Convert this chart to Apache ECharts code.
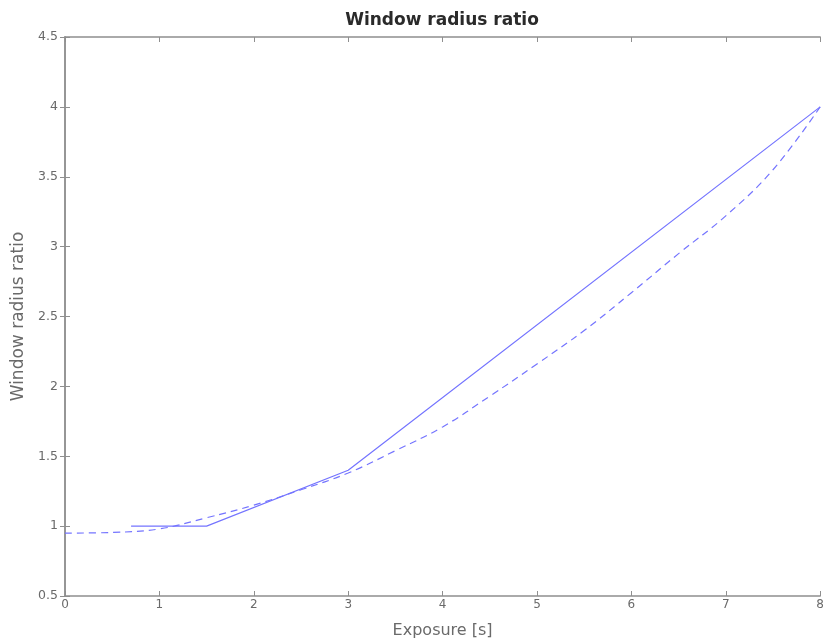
<!DOCTYPE html>
<html><head><meta charset="utf-8">
<script src="https://cdn.jsdelivr.net/npm/echarts@6/dist/echarts.min.js"></script>
<style>html,body{margin:0;padding:0;background:#fff}#c{width:827px;height:644px}</style>
</head><body><div id="c"></div>
<script>
const titleText = 'Window radius ratio';
const xName = 'Exposure [s]';
const yName = 'Window radius ratio';
const solidX = [0.7, 1.5, 3, 8];
const solidY = [1.0, 1.0, 1.4, 4.0];
const dashX = [0, 0.5, 1, 1.5, 2, 2.5, 3, 3.5, 4, 4.5, 5, 5.5, 6, 6.5, 7, 7.5, 8];
const dashY = [0.95, 0.955, 0.98, 1.06, 1.15, 1.26, 1.38, 1.54, 1.71, 1.93, 2.16, 2.40, 2.67, 2.95, 3.22, 3.55, 4.0];

const axisCol = '#8f8f8f';
const lblCol = '#6a6a6a';
const lineCol = '#7474ff';
const font = 'DejaVu Sans';
const chart = echarts.init(document.getElementById('c'));
const baseX = {type:'value', min:0, max:8, interval:1,
  axisLine:{lineStyle:{color:axisCol, width:1.5}},
  axisTick:{inside:true, length:5, lineStyle:{color:axisCol}},
  splitLine:{show:false}};
const baseY = {type:'value', min:0.5, max:4.5, interval:0.5,
  axisLine:{show:true, lineStyle:{color:axisCol, width:1.5}},
  axisTick:{show:true, inside:true, length:5, lineStyle:{color:axisCol}},
  splitLine:{show:false}};
chart.setOption({
  animation:false,
  title:{text:titleText, left:437, textAlign:'center', top:7,
    textStyle:{fontFamily:font, fontSize:17, fontWeight:'bold', color:'#2a2a2a'}},
  grid:{left:65, top:37, right:5, bottom:48},
  xAxis:[
    Object.assign({}, baseX, {position:'bottom', name:xName, nameLocation:'middle', nameGap:27,
      nameTextStyle:{fontFamily:font, fontSize:16, color:lblCol},
      axisLabel:{fontFamily:font, fontSize:12, color:lblCol, margin:3}}),
    Object.assign({}, baseX, {position:'top', axisLabel:{show:false}})
  ],
  yAxis:[
    Object.assign({}, baseY, {position:'left', name:yName, nameLocation:'middle', nameGap:36,
      nameTextStyle:{fontFamily:font, fontSize:17, color:lblCol},
      axisLabel:{fontFamily:font, fontSize:12.5, color:lblCol, margin:7,
        formatter:v=>String(+v.toFixed(1))}}),
    Object.assign({}, baseY, {position:'right', axisLabel:{show:false}})
  ],
  series:[
    {type:'line', xAxisIndex:0, yAxisIndex:0, data:solidX.map((x,i)=>[x,solidY[i]]), showSymbol:false,
      lineStyle:{color:lineCol, width:1.2, type:'solid'}},
    {type:'line', xAxisIndex:0, yAxisIndex:0, data:dashX.map((x,i)=>[x,dashY[i]]), showSymbol:false,
      smooth:0.4,
      lineStyle:{color:lineCol, width:1.2, type:[7,5]}}
  ]
});
</script></body></html>
